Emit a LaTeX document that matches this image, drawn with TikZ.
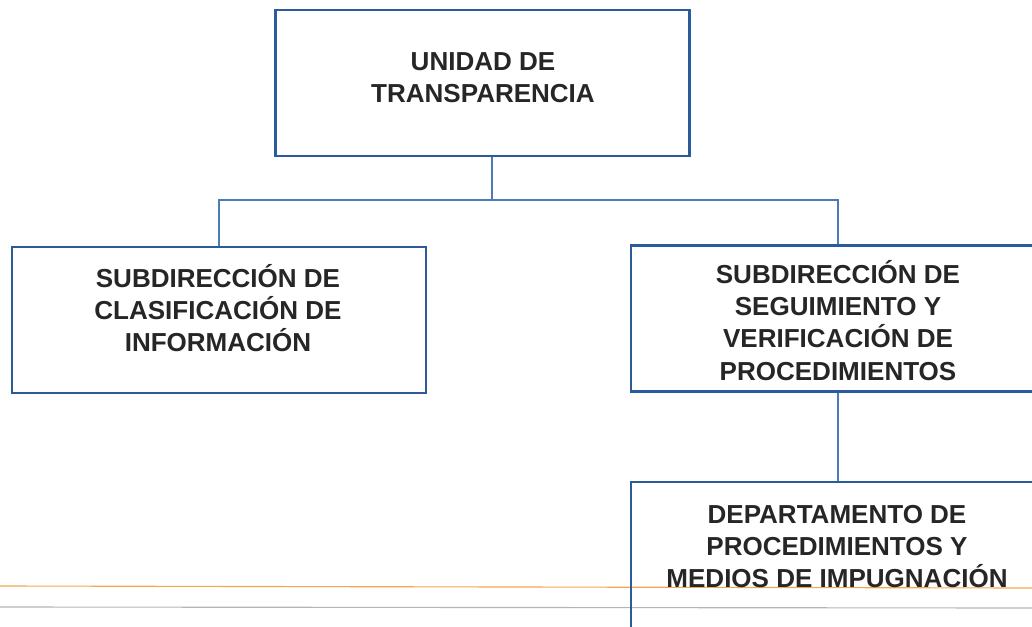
\documentclass[tikz,border=0pt]{standalone}
\usepackage{fontspec}
\setmainfont{Liberation Sans}
\definecolor{boxblue}{HTML}{2A5C9C}
\definecolor{linkblue}{HTML}{4A7CB5}
\definecolor{ruleorange}{HTML}{F2A650}
\definecolor{rulegray}{HTML}{B4B4B4}
\begin{document}
\begin{tikzpicture}[x=0.025cm, y=-0.025cm,
    unitbox/.style={rectangle, draw=boxblue, line width=1.6pt, minimum width=10.35cm, minimum height=3.65cm, inner sep=0pt},
    unittext/.style={align=center, inner sep=0pt, text=black!85, font=\fontsize{18.5}{22.8}\selectfont\bfseries},
    link/.style={draw=linkblue, line width=0.8pt}
    ]
    \useasboundingbox (0,0) rectangle (1032,626);
    \clip (0,0) rectangle (1032,626);

    % page rules
    \draw [ruleorange, line width=0.8pt] (0,586) -- (1032,588);
    \draw [rulegray, line width=0.8pt] (0,607) -- (1032,608);

    \node [unitbox] (unidad) at (482.5,83) {};
    \node [unittext] (unidadtxt) at (483,77.5) { UNIDAD DE\\TRANSPARENCIA };

    \node [unitbox] (clasif) at (219,320) {};
    \node [unittext] (clasiftxt) at (218,308) { SUBDIRECCIÓN DE\\CLASIFICACIÓN DE\\INFORMACIÓN };

    \node [unitbox] (seguim) at (838,318.5) {};
    \node [unittext] (seguimtxt) at (838,320.5) { SUBDIRECCIÓN DE\\SEGUIMIENTO Y\\VERIFICACIÓN DE\\PROCEDIMIENTOS };

    \node [unitbox] (depto) at (838,555) {};
    \node [unittext] (deptotxt) at (837,546.5) { DEPARTAMENTO DE\\PROCEDIMIENTOS Y\\MEDIOS DE IMPUGNACIÓN };

    \coordinate (fork) at (492,200);
    \draw [link] (unidad.south -| fork) -- (fork);
    \draw [link] (fork) -| (clasif.north);
    \draw [link] (fork) -| (seguim.north);
    \draw [link] (seguim.south) -- (depto.north);
\end{tikzpicture}
\end{document}
